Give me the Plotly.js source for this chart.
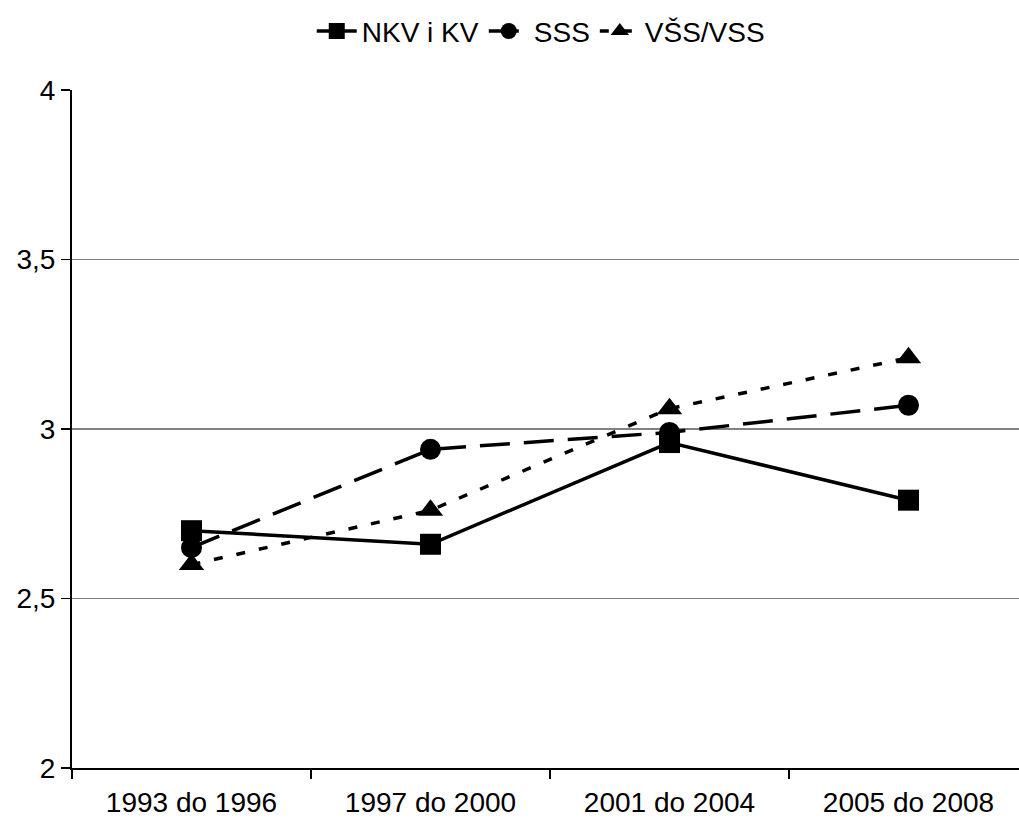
<!DOCTYPE html>
<html>
<head>
<meta charset="utf-8">
<script src="https://cdn.plot.ly/plotly-3.0.1.min.js"></script>
<style>html,body{margin:0;padding:0;overflow:hidden;background:#fff;}</style>
</head>
<body>
<div id="chart"></div>
<script>
const categories = ["1993 do 1996", "1997 do 2000", "2001 do 2004", "2005 do 2008"];
const nkvKv = [2.70, 2.66, 2.96, 2.79];
const sss = [2.65, 2.94, 2.99, 3.07];
const vssVss = [2.60, 2.76, 3.06, 3.21];
const seriesNames = ["NKV i KV", "SSS", "VŠS/VSS"];

const font = "Liberation Sans, Arial, sans-serif";
const traces = [
  {x: categories, y: nkvKv, name: seriesNames[0], type: "scatter", mode: "lines+markers",
   line: {color: "#000", width: 3.5, dash: "solid"},
   marker: {symbol: "square", size: 21, color: "#000"}},
  {x: categories, y: sss, name: seriesNames[1], type: "scatter", mode: "lines+markers",
   line: {color: "#000", width: 3.5, dash: "30px,14px"},
   marker: {symbol: "circle", size: 21, color: "#000"}},
  {x: categories, y: vssVss, name: seriesNames[2], type: "scatter", mode: "lines+markers",
   line: {color: "#000", width: 3.5, dash: "9px,14px"},
   marker: {symbol: "triangle-up", size: 22, color: "#000"}}
];

const layout = {
  width: 1030, height: 823,
  margin: {l: 72, r: 2, t: 90, b: 55, autoexpand: false},
  paper_bgcolor: "#fff", plot_bgcolor: "#fff",
  font: {family: font, size: 28, color: "#000"},
  showlegend: true,
  legend: {orientation: "h", x: 0.525, xref: "container", xanchor: "center",
           y: 0.962, yref: "container", yanchor: "middle",
           font: {family: font, size: 28, color: "#000"}, itemwidth: 40, tracegroupgap: 0},
  xaxis: {type: "category", range: [-0.5, 3.5], showline: true, linecolor: "#000", linewidth: 2,
          ticks: "outside", tickson: "boundaries", ticklen: 9, tickwidth: 1.5, tickcolor: "#000",
          ticklabelstandoff: 8,
          showgrid: false, zeroline: false, tickfont: {family: font, size: 28, color: "#000"}},
  yaxis: {range: [2, 4], tickvals: [2, 2.5, 3, 3.5, 4], ticktext: ["2", "2,5", "3", "3,5", "4"],
          showline: true, linecolor: "#000", linewidth: 2, ticks: "outside", ticklen: 9,
          tickwidth: 1.5, tickcolor: "#000", showgrid: true, gridcolor: "#808080", gridwidth: 1.5,
          zeroline: false, tickfont: {family: font, size: 28, color: "#000"}}
};

Plotly.newPlot("chart", traces, layout, {displayModeBar: false, staticPlot: true});
</script>
</body>
</html>
